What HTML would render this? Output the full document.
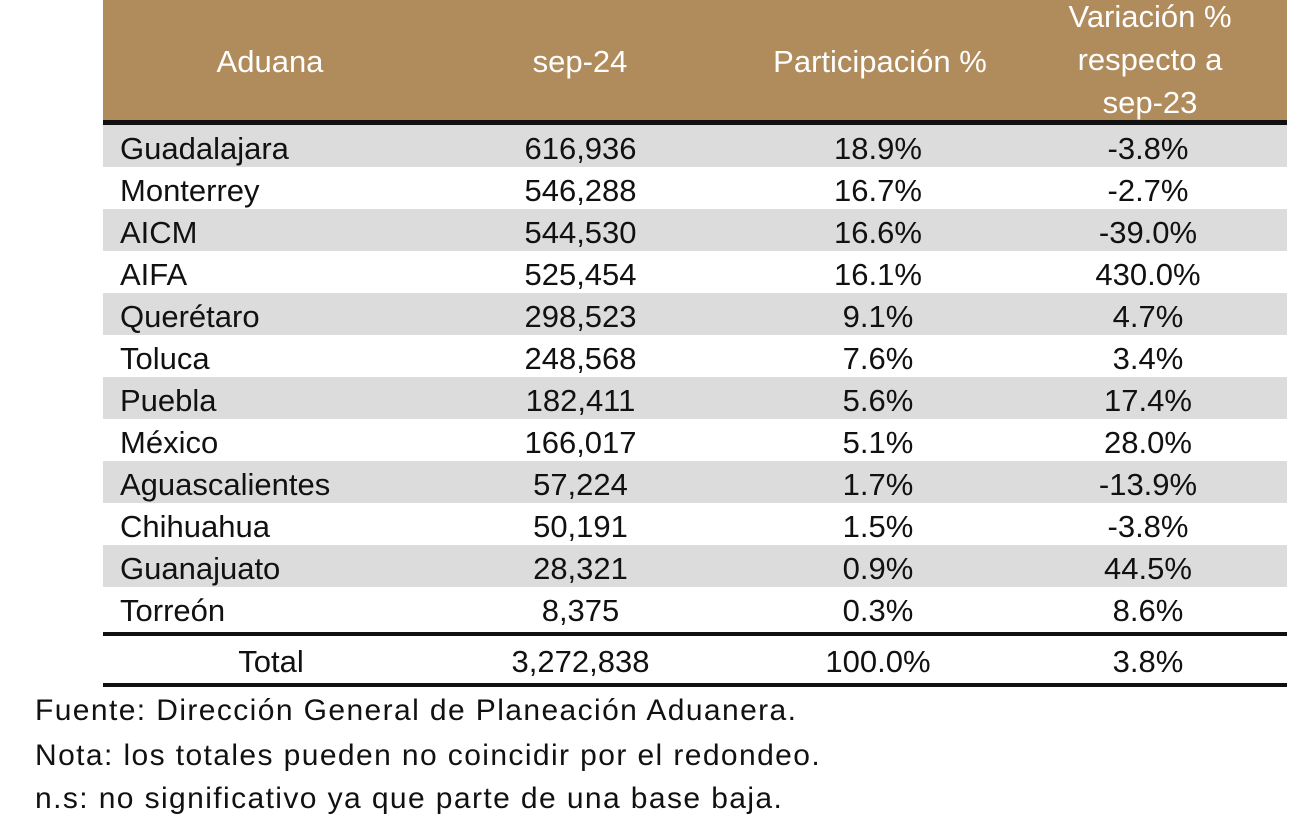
<!DOCTYPE html>
<html><head><meta charset="utf-8"><style>
body{margin:0;width:1290px;height:829px;background:#fff;font-family:"Liberation Sans","DejaVu Sans",sans-serif;overflow:hidden;position:relative}
.hdr{position:absolute;left:103px;top:0;width:1184px;height:120px;background:#b08b5b}
.hl{position:absolute;left:103px;width:1184px;background:#111}
.h{position:absolute;color:#fff;font-size:31px;text-align:center;line-height:43px;white-space:nowrap}
.row{position:absolute;left:103px;width:1184px;height:42px;font-size:31px;color:#111;line-height:48px;white-space:nowrap}
.row span{position:absolute}
.c0{left:17px}.c1{left:400px;width:155px;text-align:center}.c2{left:660px;width:230px;text-align:center}.c3{left:960px;width:170px;text-align:center}
.g{background:#dcdcdc}
.f{position:absolute;left:35px;font-size:30px;color:#111;white-space:nowrap;letter-spacing:1.4px}
</style></head><body>
<div class="hdr"></div>
<div class="h" style="left:170px;width:200px;top:40px">Aduana</div>
<div class="h" style="left:500px;width:160px;top:40px">sep-24</div>
<div class="h" style="left:730px;width:300px;top:40px">Participación %</div>
<div class="h" style="left:1050px;width:200px;top:-5px">Variación %<br>respecto a<br>sep-23</div>
<div class="hl" style="top:120px;height:5px"></div>
<div class="row g" style="top:125px"><span class="c0">Guadalajara</span><span class="c1">616,936</span><span class="c2">18.9%</span><span class="c3">-3.8%</span></div>
<div class="row" style="top:167px"><span class="c0">Monterrey</span><span class="c1">546,288</span><span class="c2">16.7%</span><span class="c3">-2.7%</span></div>
<div class="row g" style="top:209px"><span class="c0">AICM</span><span class="c1">544,530</span><span class="c2">16.6%</span><span class="c3">-39.0%</span></div>
<div class="row" style="top:251px"><span class="c0">AIFA</span><span class="c1">525,454</span><span class="c2">16.1%</span><span class="c3">430.0%</span></div>
<div class="row g" style="top:293px"><span class="c0">Querétaro</span><span class="c1">298,523</span><span class="c2">9.1%</span><span class="c3">4.7%</span></div>
<div class="row" style="top:335px"><span class="c0">Toluca</span><span class="c1">248,568</span><span class="c2">7.6%</span><span class="c3">3.4%</span></div>
<div class="row g" style="top:377px"><span class="c0">Puebla</span><span class="c1">182,411</span><span class="c2">5.6%</span><span class="c3">17.4%</span></div>
<div class="row" style="top:419px"><span class="c0">México</span><span class="c1">166,017</span><span class="c2">5.1%</span><span class="c3">28.0%</span></div>
<div class="row g" style="top:461px"><span class="c0">Aguascalientes</span><span class="c1">57,224</span><span class="c2">1.7%</span><span class="c3">-13.9%</span></div>
<div class="row" style="top:503px"><span class="c0">Chihuahua</span><span class="c1">50,191</span><span class="c2">1.5%</span><span class="c3">-3.8%</span></div>
<div class="row g" style="top:545px"><span class="c0">Guanajuato</span><span class="c1">28,321</span><span class="c2">0.9%</span><span class="c3">44.5%</span></div>
<div class="row" style="top:587px"><span class="c0">Torreón</span><span class="c1">8,375</span><span class="c2">0.3%</span><span class="c3">8.6%</span></div>
<div class="hl" style="top:632px;height:4px"></div>
<div class="row" style="top:638px;height:45px"><span style="left:108px;width:120px;text-align:center">Total</span><span class="c1" style="left:385px;width:185px">3,272,838</span><span class="c2">100.0%</span><span class="c3">3.8%</span></div>
<div class="hl" style="top:683px;height:4px"></div>
<div class="f" style="top:694px">Fuente: Dirección General de Planeación Aduanera.</div>
<div class="f" style="top:739px">Nota: los totales pueden no coincidir por el redondeo.</div>
<div class="f" style="top:782px">n.s: no significativo ya que parte de una base baja.</div>
</body></html>
